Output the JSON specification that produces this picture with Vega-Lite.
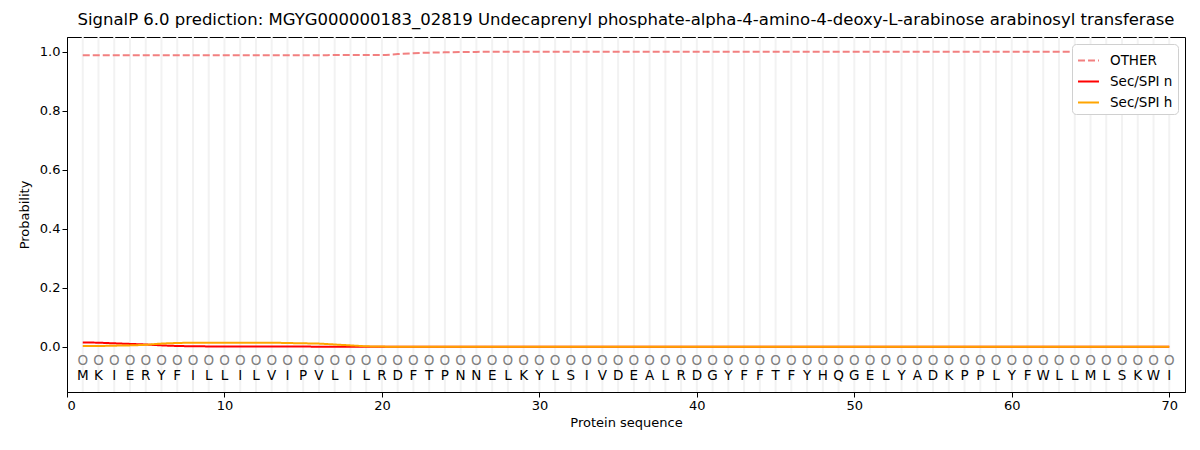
{
  "$schema": "https://vega.github.io/schema/vega-lite/v6.json",
  "autosize": "none",
  "width": 1118,
  "height": 355,
  "padding": {"left": 67, "top": 37, "right": 15, "bottom": 58},
  "background": "white",
  "config": {
    "font": "DejaVu Sans",
    "view": {"stroke": "black", "strokeWidth": 1},
    "axis": {
      "domainColor": "black",
      "tickColor": "black",
      "labelColor": "black",
      "titleColor": "black",
      "labelFontSize": 13,
      "titleFontSize": 13,
      "titleFontWeight": "normal",
      "tickSize": 5,
      "grid": false
    }
  },
  "title": {
    "text": "SignalP 6.0 prediction: MGYG000000183_02819 Undecaprenyl phosphate-alpha-4-amino-4-deoxy-L-arabinose arabinosyl transferase",
    "fontSize": 16.5,
    "fontWeight": "normal",
    "color": "black",
    "offset": 8
  },
  "datasets": {
    "seq": [
      {"pos": 1, "aa": "M", "OTHER": 0.988, "n": 0.015, "h": 0.003},
      {"pos": 2, "aa": "K", "OTHER": 0.988, "n": 0.014, "h": 0.003},
      {"pos": 3, "aa": "I", "OTHER": 0.988, "n": 0.012, "h": 0.004},
      {"pos": 4, "aa": "E", "OTHER": 0.988, "n": 0.010, "h": 0.005},
      {"pos": 5, "aa": "R", "OTHER": 0.988, "n": 0.008, "h": 0.007},
      {"pos": 6, "aa": "Y", "OTHER": 0.988, "n": 0.005, "h": 0.011},
      {"pos": 7, "aa": "F", "OTHER": 0.988, "n": 0.003, "h": 0.013},
      {"pos": 8, "aa": "I", "OTHER": 0.988, "n": 0.002, "h": 0.014},
      {"pos": 9, "aa": "L", "OTHER": 0.988, "n": 0.0015, "h": 0.014},
      {"pos": 10, "aa": "L", "OTHER": 0.988, "n": 0.001, "h": 0.014},
      {"pos": 11, "aa": "I", "OTHER": 0.988, "n": 0.001, "h": 0.014},
      {"pos": 12, "aa": "L", "OTHER": 0.988, "n": 0.001, "h": 0.014},
      {"pos": 13, "aa": "V", "OTHER": 0.988, "n": 0.001, "h": 0.014},
      {"pos": 14, "aa": "I", "OTHER": 0.988, "n": 0.001, "h": 0.013},
      {"pos": 15, "aa": "P", "OTHER": 0.988, "n": 0.001, "h": 0.012},
      {"pos": 16, "aa": "V", "OTHER": 0.988, "n": 0.0005, "h": 0.011},
      {"pos": 17, "aa": "L", "OTHER": 0.989, "n": 0.0005, "h": 0.008},
      {"pos": 18, "aa": "I", "OTHER": 0.989, "n": 0.0005, "h": 0.005},
      {"pos": 19, "aa": "L", "OTHER": 0.989, "n": 0.0005, "h": 0.002},
      {"pos": 20, "aa": "R", "OTHER": 0.989, "n": 0.0, "h": 0.001},
      {"pos": 21, "aa": "D", "OTHER": 0.992, "n": 0.0, "h": 0.0},
      {"pos": 22, "aa": "F", "OTHER": 0.995, "n": 0.0, "h": 0.0},
      {"pos": 23, "aa": "T", "OTHER": 0.997, "n": 0.0, "h": 0.0},
      {"pos": 24, "aa": "P", "OTHER": 0.998, "n": 0.0, "h": 0.0},
      {"pos": 25, "aa": "N", "OTHER": 0.999, "n": 0.0, "h": 0.0},
      {"pos": 26, "aa": "N", "OTHER": 0.9995, "n": 0.0, "h": 0.0},
      {"pos": 27, "aa": "E", "OTHER": 1.0, "n": 0.0, "h": 0.0},
      {"pos": 28, "aa": "L", "OTHER": 1.0, "n": 0.0, "h": 0.0},
      {"pos": 29, "aa": "K", "OTHER": 1.0, "n": 0.0, "h": 0.0},
      {"pos": 30, "aa": "Y", "OTHER": 1.0, "n": 0.0, "h": 0.0},
      {"pos": 31, "aa": "L", "OTHER": 1.0, "n": 0.0, "h": 0.0},
      {"pos": 32, "aa": "S", "OTHER": 1.0, "n": 0.0, "h": 0.0},
      {"pos": 33, "aa": "I", "OTHER": 1.0, "n": 0.0, "h": 0.0},
      {"pos": 34, "aa": "V", "OTHER": 1.0, "n": 0.0, "h": 0.0},
      {"pos": 35, "aa": "D", "OTHER": 1.0, "n": 0.0, "h": 0.0},
      {"pos": 36, "aa": "E", "OTHER": 1.0, "n": 0.0, "h": 0.0},
      {"pos": 37, "aa": "A", "OTHER": 1.0, "n": 0.0, "h": 0.0},
      {"pos": 38, "aa": "L", "OTHER": 1.0, "n": 0.0, "h": 0.0},
      {"pos": 39, "aa": "R", "OTHER": 1.0, "n": 0.0, "h": 0.0},
      {"pos": 40, "aa": "D", "OTHER": 1.0, "n": 0.0, "h": 0.0},
      {"pos": 41, "aa": "G", "OTHER": 1.0, "n": 0.0, "h": 0.0},
      {"pos": 42, "aa": "Y", "OTHER": 1.0, "n": 0.0, "h": 0.0},
      {"pos": 43, "aa": "F", "OTHER": 1.0, "n": 0.0, "h": 0.0},
      {"pos": 44, "aa": "F", "OTHER": 1.0, "n": 0.0, "h": 0.0},
      {"pos": 45, "aa": "T", "OTHER": 1.0, "n": 0.0, "h": 0.0},
      {"pos": 46, "aa": "F", "OTHER": 1.0, "n": 0.0, "h": 0.0},
      {"pos": 47, "aa": "Y", "OTHER": 1.0, "n": 0.0, "h": 0.0},
      {"pos": 48, "aa": "H", "OTHER": 1.0, "n": 0.0, "h": 0.0},
      {"pos": 49, "aa": "Q", "OTHER": 1.0, "n": 0.0, "h": 0.0},
      {"pos": 50, "aa": "G", "OTHER": 1.0, "n": 0.0, "h": 0.0},
      {"pos": 51, "aa": "E", "OTHER": 1.0, "n": 0.0, "h": 0.0},
      {"pos": 52, "aa": "L", "OTHER": 1.0, "n": 0.0, "h": 0.0},
      {"pos": 53, "aa": "Y", "OTHER": 1.0, "n": 0.0, "h": 0.0},
      {"pos": 54, "aa": "A", "OTHER": 1.0, "n": 0.0, "h": 0.0},
      {"pos": 55, "aa": "D", "OTHER": 1.0, "n": 0.0, "h": 0.0},
      {"pos": 56, "aa": "K", "OTHER": 1.0, "n": 0.0, "h": 0.0},
      {"pos": 57, "aa": "P", "OTHER": 1.0, "n": 0.0, "h": 0.0},
      {"pos": 58, "aa": "P", "OTHER": 1.0, "n": 0.0, "h": 0.0},
      {"pos": 59, "aa": "L", "OTHER": 1.0, "n": 0.0, "h": 0.0},
      {"pos": 60, "aa": "Y", "OTHER": 1.0, "n": 0.0, "h": 0.0},
      {"pos": 61, "aa": "F", "OTHER": 1.0, "n": 0.0, "h": 0.0},
      {"pos": 62, "aa": "W", "OTHER": 1.0, "n": 0.0, "h": 0.0},
      {"pos": 63, "aa": "L", "OTHER": 1.0, "n": 0.0, "h": 0.0},
      {"pos": 64, "aa": "L", "OTHER": 1.0, "n": 0.0, "h": 0.0},
      {"pos": 65, "aa": "M", "OTHER": 1.0, "n": 0.0, "h": 0.0},
      {"pos": 66, "aa": "L", "OTHER": 1.0, "n": 0.0, "h": 0.0},
      {"pos": 67, "aa": "S", "OTHER": 1.0, "n": 0.0, "h": 0.0},
      {"pos": 68, "aa": "K", "OTHER": 1.0, "n": 0.0, "h": 0.0},
      {"pos": 69, "aa": "W", "OTHER": 1.0, "n": 0.0, "h": 0.0},
      {"pos": 70, "aa": "I", "OTHER": 1.0, "n": 0.0, "h": 0.0}
    ]
  },
  "data": {"name": "seq"},
  "encoding": {
    "x": {
      "field": "pos",
      "type": "quantitative",
      "scale": {"domain": [0, 71], "nice": false, "zero": false},
      "axis": {"values": [0, 10, 20, 30, 40, 50, 60, 70], "title": "Protein sequence", "titlePadding": 4}
    }
  },
  "layer": [
    {
      "mark": {"type": "rule", "stroke": "#f2f2f2", "strokeWidth": 2},
      "encoding": {}
    },
    {
      "mark": {"type": "text", "fontSize": 13.5, "color": "#808080", "baseline": "middle"},
      "encoding": {
        "y": {"datum": -0.047, "type": "quantitative"},
        "text": {"value": "O"}
      }
    },
    {
      "mark": {"type": "text", "fontSize": 13.5, "color": "black", "baseline": "middle"},
      "encoding": {
        "y": {"datum": -0.1, "type": "quantitative"},
        "text": {"field": "aa"}
      }
    },
    {
      "transform": [
        {"fold": ["OTHER", "n", "h"], "as": ["key", "prob"]},
        {"calculate": "datum.key === 'n' ? 'Sec/SPI n' : datum.key === 'h' ? 'Sec/SPI h' : 'OTHER'", "as": "series"}
      ],
      "mark": {"type": "line", "strokeWidth": 2, "interpolate": "monotone"},
      "encoding": {
        "y": {
          "field": "prob",
          "type": "quantitative",
          "scale": {"domain": [-0.153, 1.05], "nice": false, "zero": false},
          "axis": {"values": [0, 0.2, 0.4, 0.6, 0.8, 1.0], "format": ".1f", "title": "Probability", "titlePadding": 8}
        },
        "color": {
          "field": "series",
          "type": "nominal",
          "scale": {"domain": ["OTHER", "Sec/SPI n", "Sec/SPI h"], "range": ["#f28080", "#ff0000", "#ffa500"]},
          "legend": {
            "title": null,
            "orient": "top-right",
            "offset": 7,
            "padding": 5,
            "fillColor": "white",
            "strokeColor": "#d0d0d0",
            "cornerRadius": 4,
            "labelFontSize": 13.5,
            "labelColor": "black",
            "labelOffset": 10,
            "symbolType": "stroke",
            "symbolSize": 440,
            "symbolStrokeWidth": 2,
            "rowPadding": 3
          }
        },
        "strokeDash": {
          "field": "series",
          "type": "nominal",
          "scale": {"domain": ["OTHER", "Sec/SPI n", "Sec/SPI h"], "range": [[7, 3], [1, 0], [1, 0]]},
          "legend": null
        },
        "order": {"field": "key", "sort": "descending"}
      }
    }
  ]
}
